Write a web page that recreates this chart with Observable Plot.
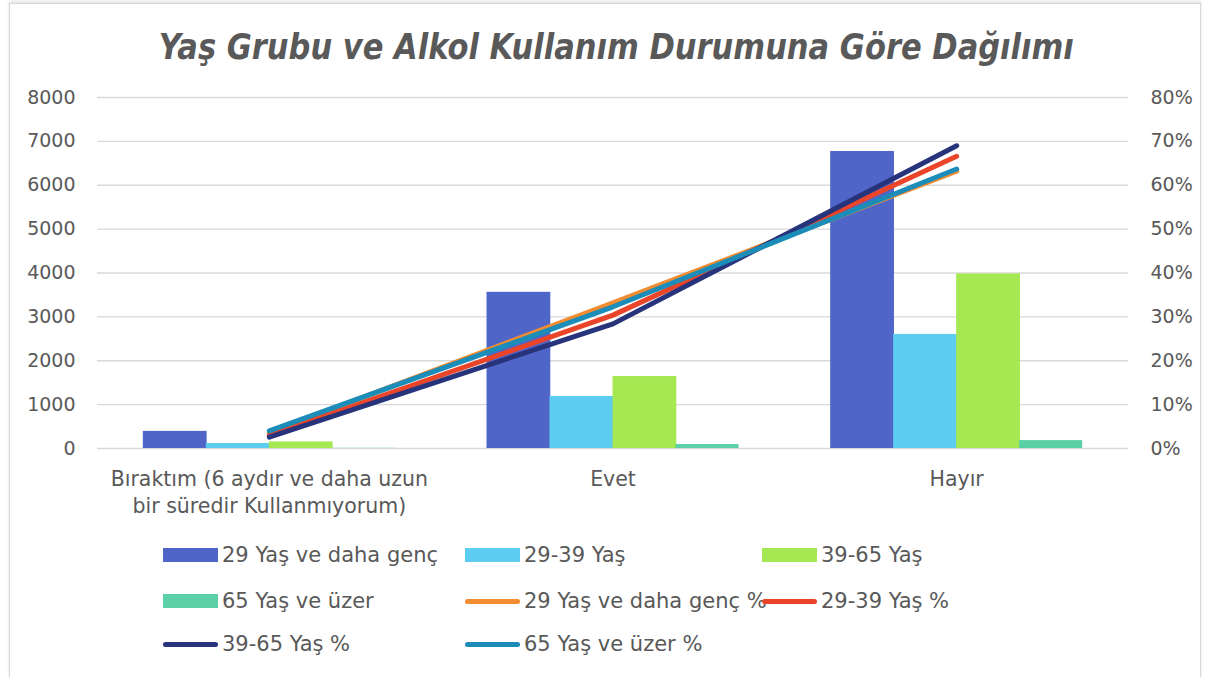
<!DOCTYPE html>
<html>
<head>
<meta charset="utf-8">
<script src="https://cdn.jsdelivr.net/npm/d3@7"></script>
<script src="https://cdn.jsdelivr.net/npm/@observablehq/plot@0.6"></script>
<style>
  html, body { margin: 0; padding: 0; background: #ffffff; }
  body { width: 1209px; height: 677px; position: relative; overflow: hidden; font-family: "DejaVu Sans", "Noto Sans", sans-serif; color: #595959; }
  #frame { position: absolute; left: 9px; top: 3px; width: 1190px; height: 720px; border: 1px solid #d9d9d9; box-shadow: 0 -2px 3px #e4e4e4; }
  #title { position: absolute; left: 0; top: 26px; width: 1209px; text-align: center; }
  #title span { display: inline-block; font-weight: bold; font-style: italic; font-size: 36px; color: #595959; white-space: nowrap; transform-origin: center center; position: relative; left: 12px; }
  #chart { position: absolute; left: 0; top: 80px; }
  #legend { position: absolute; left: 0; top: 0; width: 1209px; height: 677px; pointer-events: none; }
  .item { position: absolute; display: flex; align-items: center; font-size: 21px; color: #595959; white-space: nowrap; }
  .sw { width: 55px; margin-right: 4px; }
</style>
</head>
<body>
<div id="frame"></div>
<div id="title"><span id="titletext">Yaş Grubu ve Alkol Kullanım Durumuna Göre Dağılımı</span></div>
<div id="chart"></div>
<div id="legend"></div>
<script>
// ---- data ----
const categories = ["Bıraktım (6 aydır ve daha uzun bir süredir Kullanmıyorum)", "Evet", "Hayır"];
const barSeries = ["29 Yaş ve daha genç", "29-39 Yaş", "39-65 Yaş", "65 Yaş ve üzer"];
const bar29 = [390, 3560, 6770];
const bar29_39 = [115, 1185, 2600];
const bar39_65 = [150, 1640, 3980];
const bar65 = [4, 90, 180];
const lineSeries = ["29 Yaş ve daha genç %", "29-39 Yaş %", "39-65 Yaş %", "65 Yaş ve üzer %"];
const pct29 = [3.6, 33.2, 63.2];
const pct29_39 = [3.0, 30.4, 66.6];
const pct39_65 = [2.6, 28.4, 69.0];
const pct65 = [4.0, 32.3, 63.7];
const leftTicks = [0, 1000, 2000, 3000, 4000, 5000, 6000, 7000, 8000];
const rightTicks = [0, 10, 20, 30, 40, 50, 60, 70, 80];

const barColors = ["#4F66C8", "#5CCDF1", "#A6E851", "#5BCFA6"];
const lineColors = ["#F28C30", "#EA4429", "#27337A", "#1B8DB8"];

const barValues = [bar29, bar29_39, bar39_65, bar65];
const pctValues = [pct29, pct29_39, pct39_65, pct65];

// ---- title fit ----
const tt = document.getElementById("titletext");
const tw = tt.getBoundingClientRect().width;
tt.style.transform = `scaleX(${915 / tw})`;

// ---- chart ----
const W = 1209, H = 440, mL = 97, mR = 81, mT = 17, mB = 72;
const bw = (W - mL - mR) / categories.length;
const barW = 63;

const barMarks = barSeries.map((s, i) => {
  const data = categories.map((c, j) => ({category: c, value: barValues[i][j], series: s}));
  const insetLeft = bw / 2 + (i - 2) * barW;
  const insetRight = bw - insetLeft - barW - (i < 3 ? 0.8 : 0);
  return Plot.barY(data, {x: "category", y: "value", fill: barColors[i], insetLeft, insetRight});
});

const lineMarks = lineSeries.map((s, i) => {
  const data = categories.map((c, j) => ({category: c, pct: pctValues[i][j], series: s}));
  return Plot.line(data, {x: "category", y: d => d.pct * 100, stroke: lineColors[i], strokeWidth: 5, strokeLinecap: "round", strokeLinejoin: "round"});
});

const fam = '"DejaVu Sans", "Noto Sans", sans-serif';
const chart = Plot.plot({
  width: W, height: H, marginLeft: mL, marginRight: mR, marginTop: mT, marginBottom: mB,
  style: {fontFamily: fam, fontSize: "19px", color: "#595959", background: "transparent"},
  x: {type: "band", domain: categories, padding: 0, round: false},
  y: {domain: [0, 8000]},
  marks: [
    Plot.gridY(leftTicks, {stroke: "#d9d9d9", strokeOpacity: 1, strokeWidth: 1.4}),
    ...barMarks,
    ...lineMarks,
    Plot.axisY(leftTicks, {anchor: "left", tickSize: 0, tickPadding: 22, label: null, fontSize: 19, tickFormat: d => String(d)}),
    Plot.axisY(rightTicks.map(d => d * 100), {anchor: "right", tickSize: 0, tickPadding: 22, label: null, tickFormat: d => (d / 100) + "%", fontSize: 19}),
    Plot.axisX({tickSize: 0, tickPadding: 19, label: null, fontSize: 20.5, lineHeight: 1.3, tickFormat: d => d.replace(" uzun ", " uzun\n")})
  ]
});
document.getElementById("chart").appendChild(chart);

// ---- legend ----
const legend = document.getElementById("legend");
const items = [
  ...barSeries.map((s, i) => ({label: s, color: barColors[i], type: "bar"})),
  ...lineSeries.map((s, i) => ({label: s, color: lineColors[i], type: "line"}))
];
const colX = [163, 465, 762];
const rowY = [555, 601, 644];
items.forEach((it, k) => {
  const r = Math.floor(k / 3), c = k % 3;
  const div = document.createElement("div");
  div.className = "item";
  div.style.left = colX[c] + "px";
  div.style.top = (rowY[r] - 15) + "px";
  div.style.height = "30px";
  const sw = document.createElement("div");
  sw.className = "sw";
  if (it.type === "bar") { sw.style.height = "14px"; sw.style.background = it.color; }
  else { sw.style.height = "5px"; sw.style.borderRadius = "3px"; sw.style.background = it.color; }
  const tx = document.createElement("span");
  tx.textContent = it.label;
  div.appendChild(sw); div.appendChild(tx);
  legend.appendChild(div);
});
</script>
</body>
</html>
